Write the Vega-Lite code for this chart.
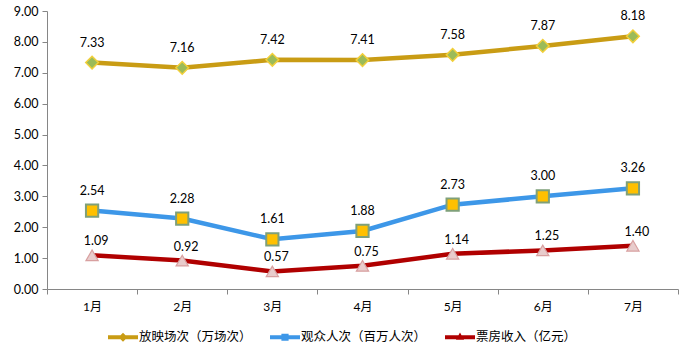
{
  "$schema": "https://vega.github.io/schema/vega-lite/v6.json",
  "width": 631,
  "height": 278,
  "autosize": {"type": "none"},
  "padding": {"left": 47, "top": 11, "right": 7, "bottom": 62},
  "background": "white",
  "config": {
    "view": {"stroke": null},
    "font": "Lato, 'Noto Sans CJK SC'",
    "text": {"font": "Lato, 'Noto Sans CJK SC'", "fontSize": 12, "color": "#000000"}
  },
  "data": {
    "values": [
      {"month": "1月", "series": "放映场次（万场次）", "value": 7.33},
      {"month": "2月", "series": "放映场次（万场次）", "value": 7.16},
      {"month": "3月", "series": "放映场次（万场次）", "value": 7.42},
      {"month": "4月", "series": "放映场次（万场次）", "value": 7.41},
      {"month": "5月", "series": "放映场次（万场次）", "value": 7.58},
      {"month": "6月", "series": "放映场次（万场次）", "value": 7.87},
      {"month": "7月", "series": "放映场次（万场次）", "value": 8.18},
      {"month": "1月", "series": "观众人次（百万人次）", "value": 2.54},
      {"month": "2月", "series": "观众人次（百万人次）", "value": 2.28},
      {"month": "3月", "series": "观众人次（百万人次）", "value": 1.61},
      {"month": "4月", "series": "观众人次（百万人次）", "value": 1.88},
      {"month": "5月", "series": "观众人次（百万人次）", "value": 2.73},
      {"month": "6月", "series": "观众人次（百万人次）", "value": 3.00},
      {"month": "7月", "series": "观众人次（百万人次）", "value": 3.26},
      {"month": "1月", "series": "票房收入（亿元）", "value": 1.09},
      {"month": "2月", "series": "票房收入（亿元）", "value": 0.92},
      {"month": "3月", "series": "票房收入（亿元）", "value": 0.57},
      {"month": "4月", "series": "票房收入（亿元）", "value": 0.75},
      {"month": "5月", "series": "票房收入（亿元）", "value": 1.14},
      {"month": "6月", "series": "票房收入（亿元）", "value": 1.25},
      {"month": "7月", "series": "票房收入（亿元）", "value": 1.40}
    ]
  },
  "encoding": {
    "x": {
      "field": "month",
      "type": "ordinal",
      "sort": ["1月", "2月", "3月", "4月", "5月", "6月", "7月"],
      "scale": {"type": "band", "paddingInner": 0, "paddingOuter": 0},
      "axis": {
        "title": null,
        "labelAngle": 0,
        "tickBand": "extent",
        "domainColor": "#868686",
        "tickColor": "#868686",
        "tickSize": 5,
        "labelFontSize": 12,
        "labelColor": "#000000",
        "labelPadding": 7,
        "labelFont": "Lato, 'Noto Sans CJK SC'"
      }
    },
    "y": {
      "field": "value",
      "type": "quantitative",
      "scale": {"domain": [0, 9], "nice": false, "zero": true},
      "axis": {
        "title": null,
        "values": [0, 1, 2, 3, 4, 5, 6, 7, 8, 9],
        "format": ".2f",
        "grid": false,
        "domainColor": "#868686",
        "tickColor": "#868686",
        "tickSize": 5,
        "labelFontSize": 12.5,
        "labelColor": "#000000",
        "labelPadding": 4,
        "labelFont": "Lato"
      }
    }
  },
  "layer": [
    {
      "mark": {"type": "line", "strokeWidth": 4.5},
      "encoding": {
        "stroke": {
          "field": "series",
          "type": "nominal",
          "sort": ["放映场次（万场次）", "观众人次（百万人次）", "票房收入（亿元）"],
          "scale": {
            "domain": ["放映场次（万场次）", "观众人次（百万人次）", "票房收入（亿元）"],
            "range": ["#C99C14", "#3D97E8", "#B00000"]
          },
          "legend": {
            "title": null,
            "orient": "none",
            "legendX": 61,
            "legendY": 311,
            "direction": "horizontal",
            "symbolSize": 900,
            "symbolStrokeWidth": 0,
            "labelFontSize": 12.5,
            "labelFont": "'Noto Sans CJK SC'",
            "labelColor": "#000000",
            "labelOffset": 1,
            "columnPadding": 18,
            "encode": {
              "symbols": {
                "update": {
                  "shape": {"signal": "datum.value === '放映场次（万场次）' ? 'M-1,-0.13L1,-0.13L1,0.13L-1,0.13Z M0,-0.3L0.3,0L0,0.3L-0.3,0Z' : datum.value === '观众人次（百万人次）' ? 'M-1,-0.13L1,-0.13L1,0.13L-1,0.13Z M-0.24,-0.24L0.24,-0.24L0.24,0.24L-0.24,0.24Z' : 'M-1,-0.13L1,-0.13L1,0.13L-1,0.13Z M0,-0.32L0.27,0.16L-0.27,0.16Z'"},
                  "fill": {"signal": "datum.value === '放映场次（万场次）' ? '#C99C14' : datum.value === '观众人次（百万人次）' ? '#3D97E8' : '#B00000'"},
                  "strokeWidth": {"value": 0}
                }
              }
            }
          }
        }
      }
    },
    {
      "transform": [{"filter": "datum.series === '放映场次（万场次）'"}],
      "mark": {"type": "point", "shape": "diamond", "size": 160, "filled": true, "fill": "#9BBB59", "stroke": "#F2CF3A", "strokeWidth": 1.5, "opacity": 1}
    },
    {
      "transform": [{"filter": "datum.series === '观众人次（百万人次）'"}],
      "mark": {"type": "point", "shape": "square", "size": 150, "filled": true, "fill": "#FFC000", "stroke": "#7FA07A", "strokeWidth": 2, "opacity": 1}
    },
    {
      "transform": [{"filter": "datum.series === '票房收入（亿元）'"}],
      "mark": {"type": "point", "shape": "triangle-up", "size": 150, "filled": true, "fill": "#E8CCCC", "stroke": "#D8A0A0", "strokeWidth": 1.2, "opacity": 1}
    },
    {
      "transform": [{"filter": "datum.series !== '票房收入（亿元）'"}],
      "mark": {"type": "text", "dy": -20, "baseline": "middle", "align": "center", "fontSize": 12.5},
      "encoding": {"text": {"field": "value", "type": "quantitative", "format": ".2f"}}
    },
    {
      "transform": [{"filter": "datum.series === '票房收入（亿元）'"}],
      "mark": {"type": "text", "dy": -14, "dx": 4, "baseline": "middle", "align": "center", "fontSize": 12.5},
      "encoding": {"text": {"field": "value", "type": "quantitative", "format": ".2f"}}
    }
  ]
}
